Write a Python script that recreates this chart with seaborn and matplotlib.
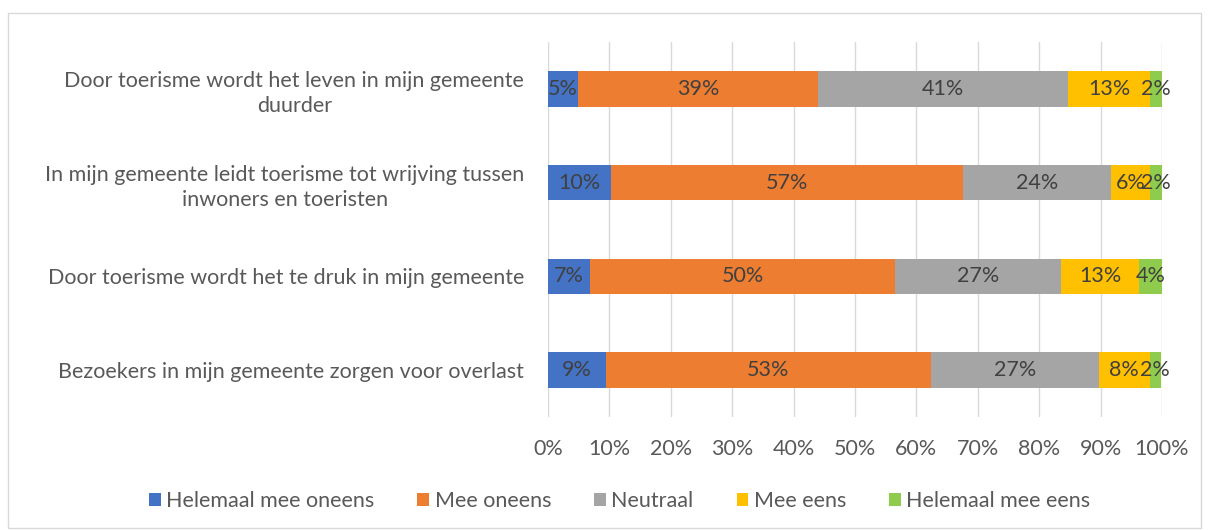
import matplotlib
matplotlib.use("Agg")
import matplotlib.pyplot as plt
import seaborn as sns
import numpy as np
import pandas as pd
from matplotlib.patches import Rectangle

categories = [
    "Door toerisme wordt het leven in mijn gemeente\nduurder",
    "In mijn gemeente leidt toerisme tot wrijving tussen\ninwoners en toeristen",
    "Door toerisme wordt het te druk in mijn gemeente",
    "Bezoekers in mijn gemeente zorgen voor overlast",
]
series_names = ["Helemaal mee oneens", "Mee oneens", "Neutraal", "Mee eens", "Helemaal mee eens"]
helemaal_oneens = [4.9, 10.3, 6.8, 9.4]
mee_oneens = [39.1, 57.3, 49.8, 53.0]
neutraal = [40.7, 24.1, 27.0, 27.3]
mee_eens = [13.4, 6.4, 12.7, 8.3]
helemaal_eens = [1.9, 1.9, 3.7, 1.8]
x_ticks = [0, 10, 20, 30, 40, 50, 60, 70, 80, 90, 100]
colors = ["#4472C4", "#ED7D31", "#A5A5A5", "#FFC000", "#8FCB4C"]

sns.set_theme(style="white")
plt.rcParams["font.family"] = ["Lato", "DejaVu Sans"]
txt = "#595959"
FS = 15.5

series = [helemaal_oneens, mee_oneens, neutraal, mee_eens, helemaal_eens]
vals = np.array(series)
cum = np.cumsum(vals, axis=0)
rows = []
for si, name in enumerate(series_names):
    for ci, cat in enumerate(categories):
        rows.append({"cat": cat, "series": name, "val": vals[si, ci],
                     "cum": cum[si, ci], "start": cum[si, ci] - vals[si, ci]})
df = pd.DataFrame(rows)

fig = plt.figure(figsize=(12.08, 5.30), dpi=100)
ax = fig.add_axes([0.4536, 0.213, 0.5083, 0.708])

for si in range(len(series_names) - 1, -1, -1):
    sub = df[df["series"] == series_names[si]]
    sns.barplot(data=sub, x="cum", y="cat", order=categories, color=colors[si],
                width=0.38, ax=ax, orient="h", saturation=1, linewidth=0,
                label=series_names[si])

for _, r in df.iterrows():
    yi = categories.index(r["cat"])
    ax.text(r["start"] + r["val"] / 2, yi, f"{r['val']:.0f}%", ha="center", va="center",
            fontsize=FS, color="#404040")

ax.set_xlim(0, 100)
ax.set_ylim(3.5, -0.5)
ax.set_xticks(x_ticks)
ax.set_xticklabels([f"{t}%" for t in x_ticks], fontsize=FS, color=txt)
ax.tick_params(axis="x", length=0, pad=16)
ax.tick_params(axis="y", length=0, pad=17)
for lab in ax.get_yticklabels():
    lab.set_fontsize(FS)
    lab.set_color(txt)
    lab.set_multialignment("center")
    lab.set_linespacing(1.35)
ax.set_xlabel("")
ax.set_ylabel("")
ax.xaxis.grid(True, color="#D9D9D9", linewidth=1)
ax.set_axisbelow(True)
for s in ax.spines.values():
    s.set_visible(False)

handles, labels = ax.get_legend_handles_labels()
order = [labels.index(n) for n in series_names]
leg = fig.legend([handles[i] for i in order], [labels[i] for i in order],
                 loc="center", bbox_to_anchor=(0.513, 0.055), ncol=5, frameon=False,
                 fontsize=FS, handlelength=0.55, handleheight=0.55, handletextpad=0.25,
                 columnspacing=2.0)
for t in leg.get_texts():
    t.set_color(txt)
if ax.get_legend():
    ax.get_legend().remove()

fig.patches.append(Rectangle((0.007, 0.004), 0.987, 0.972, transform=fig.transFigure,
                             fill=False, edgecolor="#D9D9D9", linewidth=1))

fig.savefig("out.png", dpi=100)
